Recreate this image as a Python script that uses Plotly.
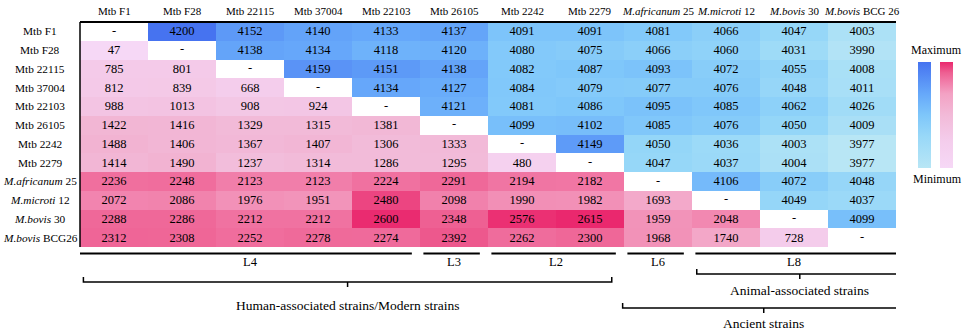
import plotly.graph_objects as go

# ---------------- data ----------------
strains = ["Mtb F1", "Mtb F28", "Mtb 22115", "Mtb 37004", "Mtb 22103", "Mtb 26105",
           "Mtb 2242", "Mtb 2279", "M.africanum 25", "M.microti 12", "M.bovis 30", "M.bovis BCG 26"]
col_labels = ["Mtb F1", "Mtb F28", "Mtb 22115", "Mtb 37004", "Mtb 22103", "Mtb 26105",
              "Mtb 2242", "Mtb 2279", "<i>M.africanum</i> 25", "<i>M.microti</i> 12",
              "<i>M.bovis</i> 30", "<i>M.bovis</i> BCG 26"]
row_labels = ["Mtb F1", "Mtb F28", "Mtb 22115", "Mtb 37004", "Mtb 22103", "Mtb 26105",
              "Mtb 2242", "Mtb 2279", "<i>M.africanum</i> 25", "<i>M.microti</i> 12",
              "<i>M.bovis</i> 30", "<i>M.bovis</i> BCG26"]

# one list per row (None = diagonal)
row_F1      = [None, 4200, 4152, 4140, 4133, 4137, 4091, 4091, 4081, 4066, 4047, 4003]
row_F28     = [47, None, 4138, 4134, 4118, 4120, 4080, 4075, 4066, 4060, 4031, 3990]
row_22115   = [785, 801, None, 4159, 4151, 4138, 4082, 4087, 4093, 4072, 4055, 4008]
row_37004   = [812, 839, 668, None, 4134, 4127, 4084, 4079, 4077, 4076, 4048, 4011]
row_22103   = [988, 1013, 908, 924, None, 4121, 4081, 4086, 4095, 4085, 4062, 4026]
row_26105   = [1422, 1416, 1329, 1315, 1381, None, 4099, 4102, 4085, 4076, 4050, 4009]
row_2242    = [1488, 1406, 1367, 1407, 1306, 1333, None, 4149, 4050, 4036, 4003, 3977]
row_2279    = [1414, 1490, 1237, 1314, 1286, 1295, 480, None, 4047, 4037, 4004, 3977]
row_afr25   = [2236, 2248, 2123, 2123, 2224, 2291, 2194, 2182, None, 4106, 4072, 4048]
row_mic12   = [2072, 2086, 1976, 1951, 2480, 2098, 1990, 1982, 1693, None, 4049, 4037]
row_bov30   = [2288, 2286, 2212, 2212, 2600, 2348, 2576, 2615, 1959, 2048, None, 4099]
row_bcg26   = [2312, 2308, 2252, 2278, 2274, 2392, 2262, 2300, 1968, 1740, 728, None]

rows = [row_F1, row_F28, row_22115, row_37004, row_22103, row_26105,
        row_2242, row_2279, row_afr25, row_mic12, row_bov30, row_bcg26]

lineages = ["L4", "L3", "L2", "L6", "L8"]
lineage_cols = [(0, 4), (5, 5), (6, 7), (8, 8), (9, 11)]

groups = ["Human-associated strains/Modern strains", "Animal-associated strains", "Ancient strains"]
group_cols = [(0, 7), (9, 11), (8, 11)]

# ---------------- build matrices ----------------
n = len(rows)
z_up = [[rows[i][j] if j > i else None for j in range(n)] for i in range(n)]
z_lo = [[rows[i][j] if j < i else None for j in range(n)] for i in range(n)]
t_up = [[str(v) if v is not None else "" for v in r] for r in z_up]
t_lo = [[str(v) if v is not None else "" for v in r] for r in z_lo]

blue_scale = [[0.0, "rgb(184,230,245)"], [0.3, "rgb(152,216,248)"], [0.5, "rgb(126,198,250)"],
              [0.7, "rgb(102,168,250)"], [1.0, "rgb(70,115,240)"]]
pink_scale = [[0.0, "rgb(246,216,246)"], [0.25, "rgb(244,205,236)"], [0.5, "rgb(242,186,216)"],
              [0.7, "rgb(243,162,196)"], [0.82, "rgb(241,122,167)"], [0.9, "rgb(238,95,146)"],
              [1.0, "rgb(234,40,110)"]]

FONT = "Liberation Serif"
W, H = 964, 332
L, R, T, B = 80, 896, 22, 247  # plot area in pixels

def py(p):
    """pixel y -> paper y"""
    return (B - p) / (B - T)

def px(p):
    """pixel x -> paper x"""
    return (p - L) / (R - L)

fig = go.Figure()
fig.add_trace(go.Heatmap(
    z=z_up, x=list(range(n)), y=list(range(n)), text=t_up, texttemplate="%{text}",
    textfont=dict(family=FONT, size=12.5, color="black"),
    colorscale=blue_scale, hoverinfo="skip", xgap=0, ygap=0,
    colorbar=dict(x=px(918), xanchor="left", y=py(115), yanchor="middle",
                  thickness=13, thicknessmode="pixels", len=106, lenmode="pixels",
                  showticklabels=False, ticks="", outlinewidth=0, xpad=0, ypad=0)))
fig.add_trace(go.Heatmap(
    z=z_lo, x=list(range(n)), y=list(range(n)), text=t_lo, texttemplate="%{text}",
    textfont=dict(family=FONT, size=12.5, color="black"),
    colorscale=pink_scale, hoverinfo="skip", xgap=0, ygap=0,
    colorbar=dict(x=px(940), xanchor="left", y=py(115), yanchor="middle",
                  thickness=13, thicknessmode="pixels", len=106, lenmode="pixels",
                  showticklabels=False, ticks="", outlinewidth=0, xpad=0, ypad=0)))
fig.add_trace(go.Scatter(
    x=list(range(n)), y=list(range(n)), mode="text", text=["-"] * n,
    textfont=dict(family=FONT, size=12.5, color="black"), hoverinfo="skip", showlegend=False))

ann = []
for j, lab in enumerate(col_labels):
    ann.append(dict(x=j, y=py(11), xref="x", yref="paper", text=lab, showarrow=False,
                    font=dict(family=FONT, size=11, color="black"), xanchor="center", yanchor="middle"))
for i, lab in enumerate(row_labels):
    ann.append(dict(x=px(40), y=i, xref="paper", yref="y", text=lab, showarrow=False,
                    font=dict(family=FONT, size=11.3, color="black"), xanchor="center", yanchor="middle"))

shapes = []
# frame lines
shapes.append(dict(type="line", xref="paper", yref="paper", x0=0, x1=1, y0=1.0, y1=1.0,
                   line=dict(color="black", width=2)))
shapes.append(dict(type="line", xref="paper", yref="paper", x0=0, x1=0, y0=0, y1=1.0,
                   line=dict(color="black", width=1.5)))

# lineage lines & labels
for lab, (a, b) in zip(lineages, lineage_cols):
    x0 = -0.5 if a == 0 else a - 0.45
    x1 = b + 0.6 if b == n - 1 else b + 0.38
    shapes.append(dict(type="line", xref="x", yref="paper", x0=x0, x1=x1, y0=py(253.5), y1=py(253.5),
                       line=dict(color="black", width=2)))
    ann.append(dict(x=(a + b) / 2, y=py(262), xref="x", yref="paper", text=lab, showarrow=False,
                    font=dict(family=FONT, size=12.5, color="black"), xanchor="center", yanchor="middle"))

def bracket(x0, x1, ybar, label, ylab):
    xm = (x0 + x1) / 2
    shapes.append(dict(type="path", xref="x", yref="paper",
                       path=f"M {x0},{py(ybar-5)} L {x0},{py(ybar)} L {x1},{py(ybar)} L {x1},{py(ybar-5)}",
                       line=dict(color="black", width=1.5)))
    shapes.append(dict(type="line", xref="x", yref="paper", x0=xm, x1=xm, y0=py(ybar), y1=py(ybar + 5),
                       line=dict(color="black", width=1.5)))
    ann.append(dict(x=xm, y=py(ylab), xref="x", yref="paper", text=label, showarrow=False,
                    font=dict(family=FONT, size=13.5, color="black"), xanchor="center", yanchor="middle"))

(ha, hb), (aa, ab), (ca, cb) = group_cols
bracket(ha - 0.45, hb + 0.32, 282, groups[0], 305)
bracket(aa - 0.43, ab + 0.6, 274, groups[1], 290)
bracket(ca - 0.52, cb + 0.63, 308, groups[2], 323)

ann.append(dict(x=px(936), y=py(50), xref="paper", yref="paper", text="Maximum",
                showarrow=False, font=dict(family=FONT, size=12, color="black"),
                xanchor="center", yanchor="middle"))
ann.append(dict(x=px(937), y=py(179), xref="paper", yref="paper", text="Minimum",
                showarrow=False, font=dict(family=FONT, size=12, color="black"),
                xanchor="center", yanchor="middle"))

fig.update_layout(
    width=W, height=H, margin=dict(l=L, r=W - R, t=T, b=H - B, pad=0, autoexpand=False),
    paper_bgcolor="white", plot_bgcolor="white", showlegend=False,
    xaxis=dict(range=[-0.5, n - 0.5], showticklabels=False, showgrid=False, zeroline=False, ticks=""),
    yaxis=dict(range=[n - 0.5, -0.5], showticklabels=False, showgrid=False, zeroline=False, ticks=""),
    annotations=ann, shapes=shapes)

fig.write_html("out.html", config={"displayModeBar": False},
               post_script="document.body.style.margin='0';document.body.style.overflow='hidden';")
